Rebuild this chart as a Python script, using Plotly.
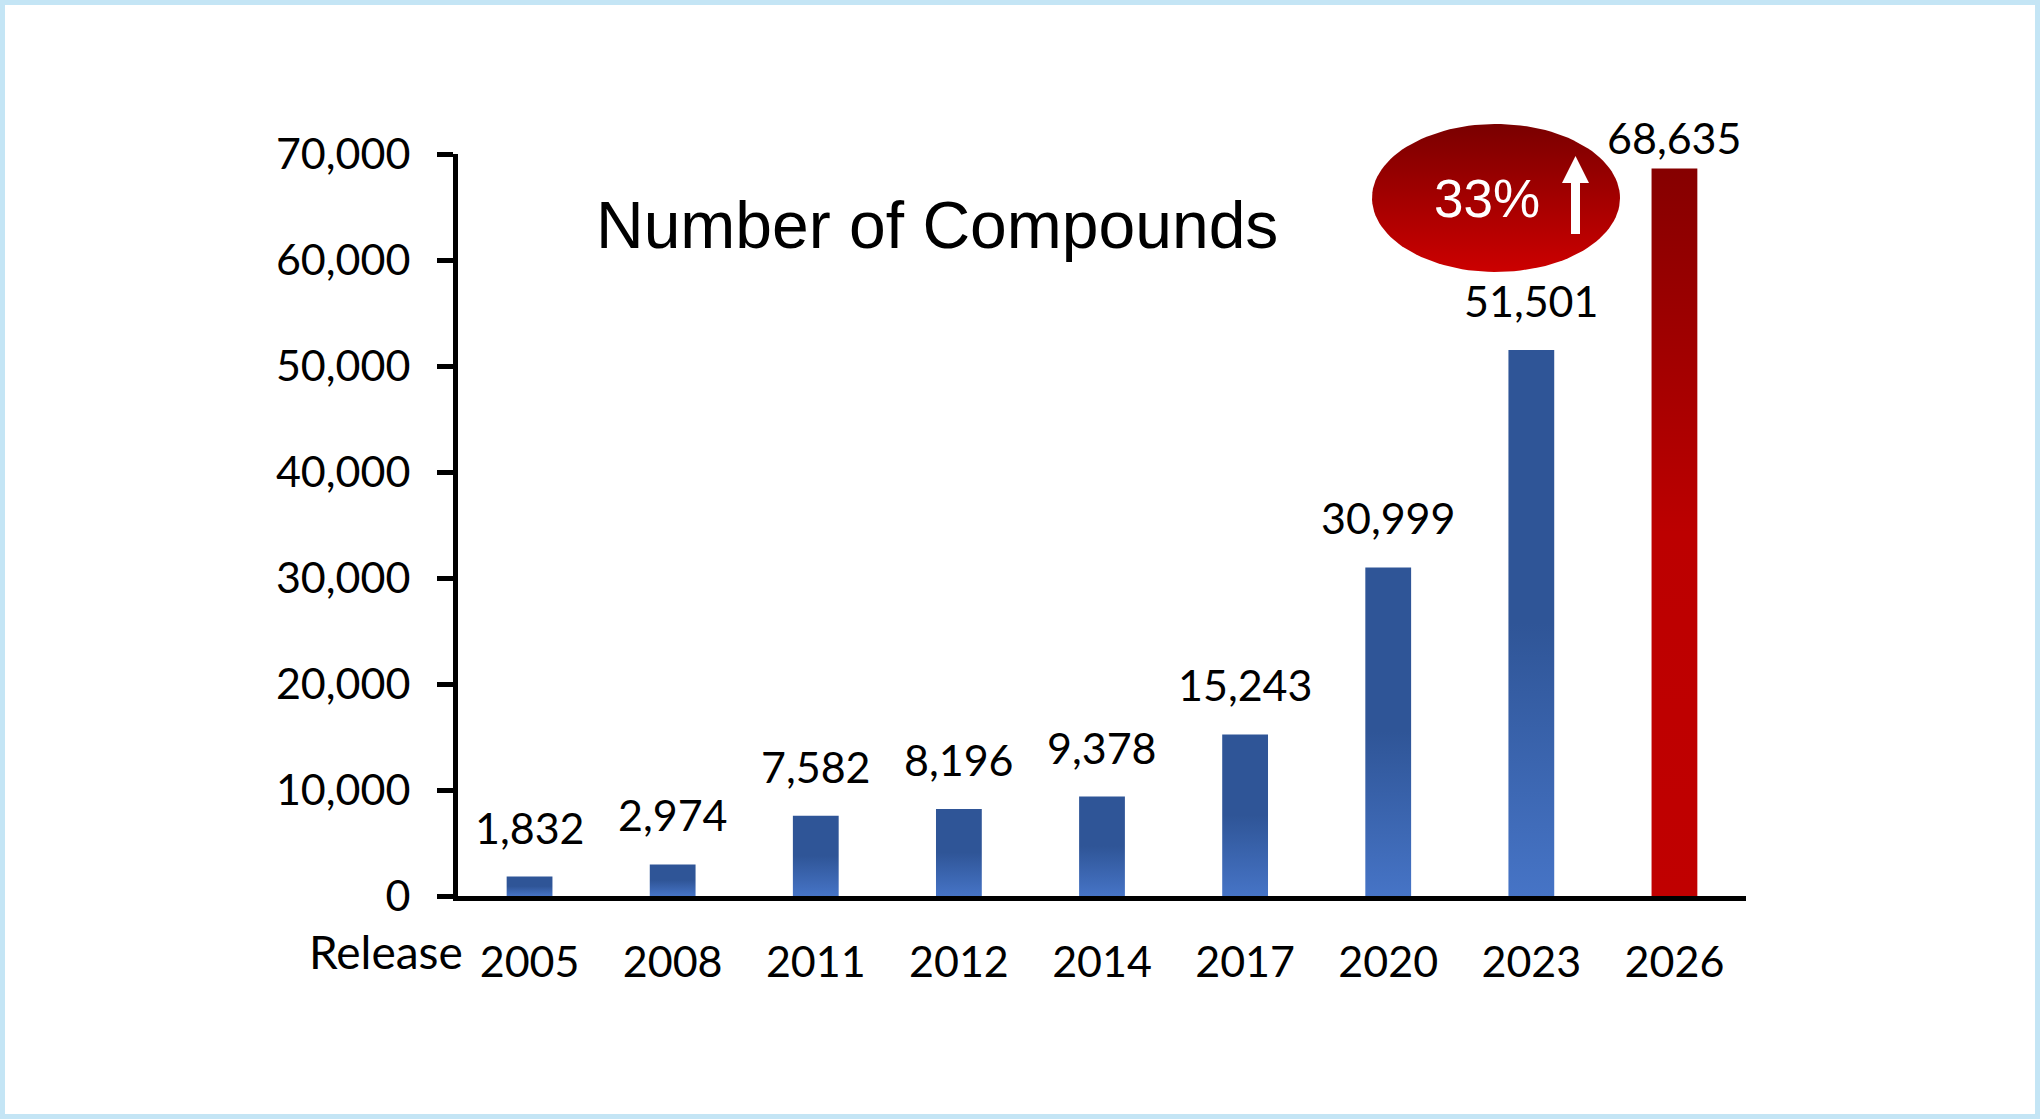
import numpy as np
import plotly.graph_objects as go

years = ['2005', '2008', '2011', '2012', '2014', '2017', '2020', '2023', '2026']
compounds = [1832, 2974, 7582, 8196, 9378, 15243, 30999, 51501, 68635]
y_ticks = [0, 10000, 20000, 30000, 40000, 50000, 60000, 70000]
chart_title = 'Number of Compounds'
x_label = 'Release'
growth_label = '33%'

W, H = 2040, 1119
# plot area in pixels (left, right, top, bottom)
L, R, T, B = 458, 1746, 154, 896
bar_w = 0.32

blue_scale = [[0, '#4674C6'], [0.5, '#2F5597'], [1, '#2F5597']]
red_scale = [[0, '#C00000'], [0.5, '#BC0000'], [1, '#860000']]
num_font = dict(family='Lato', size=43, color='black')

fig = go.Figure()

for i, v in enumerate(compounds):
    last = i == len(compounds) - 1
    x0, x1 = i - bar_w / 2, i + bar_w / 2
    fig.add_trace(go.Scatter(
        x=[x0, x1, x1, x0, x0], y=[0, 0, v, v, 0],
        fill='toself', mode='lines', line=dict(width=0),
        fillgradient=dict(type='vertical', colorscale=red_scale if last else blue_scale),
        hoverinfo='skip', showlegend=False))
    fig.add_annotation(x=i, y=v, text=f'{v:,}', showarrow=False,
                       yanchor='bottom', yshift=3 if last else 22, font=num_font)

# highlight ellipse, drawn on a full-page pixel axis pair
t = np.linspace(0, 2 * np.pi, 120)
fig.add_trace(go.Scatter(
    x=1496 + 124 * np.cos(t), y=H - (198 + 74 * np.sin(t)),
    xaxis='x2', yaxis='y2', fill='toself', mode='lines', line=dict(width=0),
    fillgradient=dict(type='vertical', colorscale=[[0, '#CC0000'], [1, '#7A0000']]),
    hoverinfo='skip', showlegend=False))

# white up arrow
ax = [1575.5, 1589, 1580, 1580, 1571, 1571, 1562]
ay = [156, 183, 183, 234, 234, 183, 183]
path = 'M ' + ' L '.join(f'{a},{H - b}' for a, b in zip(ax, ay)) + ' Z'
fig.add_shape(type='path', path=path, xref='x2', yref='y2',
              fillcolor='white', line=dict(width=0))

fig.add_annotation(x=1487, y=H - 198, xref='x2', yref='y2', text=growth_label,
                   showarrow=False, xanchor='center', yanchor='middle',
                   font=dict(family='Liberation Sans', size=53, color='white'))
fig.add_annotation(x=937 / W, y=1 - 225 / H, xref='paper', yref='paper', text=chart_title,
                   showarrow=False, xanchor='center', yanchor='middle',
                   font=dict(family='Liberation Sans', size=66, color='black'))
fig.add_annotation(x=465 / W, y=1 - 951 / H, xref='paper', yref='paper', text=x_label,
                   showarrow=False, xanchor='right', yanchor='middle',
                   font=dict(family='Lato', size=46, color='black'))

# light blue frame
fig.add_shape(type='rect', xref='paper', yref='paper',
              x0=2.5 / W, x1=1 - 2.5 / W, y0=2.5 / H, y1=1 - 2.5 / H,
              line=dict(color='#C4E5F5', width=5))

fig.update_layout(
    width=W, height=H,
    margin=dict(l=0, r=0, t=0, b=0),
    paper_bgcolor='white', plot_bgcolor='rgba(0,0,0,0)',
    showlegend=False,
    xaxis=dict(domain=[L / W, R / W], range=[-0.5, len(years) - 0.5],
               tickvals=list(range(len(years))), ticktext=years,
               showline=True, linewidth=5, linecolor='black',
               ticks='', showgrid=False, zeroline=False,
               tickfont=num_font, ticklabelstandoff=24, automargin=False),
    yaxis=dict(domain=[1 - B / H, 1 - T / H], range=[0, 70000],
               tickvals=y_ticks, tickformat=',',
               showline=True, linewidth=5, linecolor='black',
               ticks='outside', ticklen=16, tickwidth=5, tickcolor='black',
               showgrid=False, zeroline=False,
               tickfont=num_font, ticklabelstandoff=18, automargin=False),
    xaxis2=dict(domain=[0, 1], range=[0, W], visible=False, anchor='y2'),
    yaxis2=dict(domain=[0, 1], range=[0, H], visible=False, anchor='x2'),
)

fig.write_html('out.html', config={'displayModeBar': False},
               post_script="document.body.style.margin='0';document.body.style.overflow='hidden';")
